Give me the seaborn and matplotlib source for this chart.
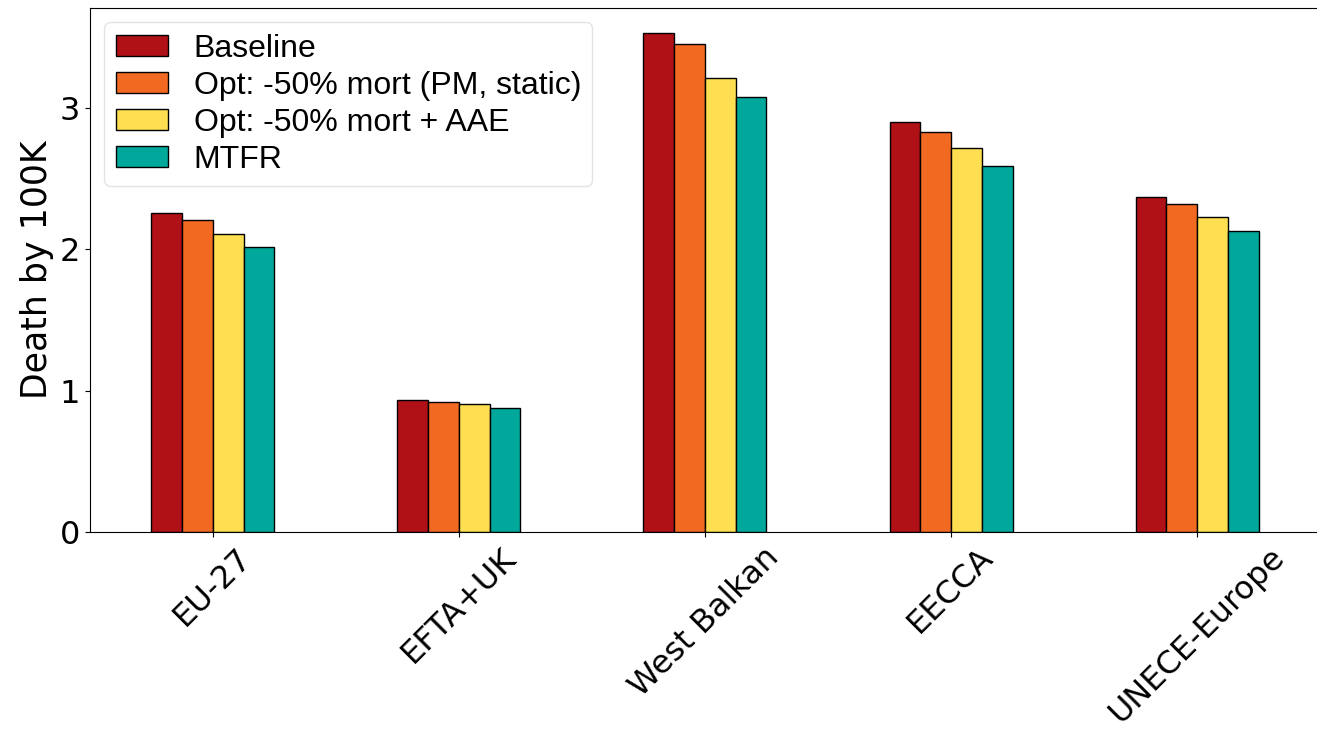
import matplotlib
matplotlib.use("Agg")
import matplotlib.pyplot as plt
import seaborn as sns
import pandas as pd

# ── Data ─────────────────────────────────────────────────────────────────────
REGIONS   = ["EU-27", "EFTA+UK", "West Balkan", "EECCA", "UNECE-Europe"]
SCENARIOS = ["Baseline", "Opt: -50% mort (PM, static)", "Opt: -50% mort + AAE", "MTFR"]

baseline   = [2.26, 0.934, 3.53, 2.90, 2.37]
opt_static = [2.21, 0.922, 3.45, 2.83, 2.32]
opt_aae    = [2.11, 0.906, 3.21, 2.72, 2.23]
mtfr       = [2.02, 0.878, 3.08, 2.59, 2.13]

COLORS = ["#B01116", "#F26A22", "#FEDF52", "#00A89C"]

# long-form table for seaborn
rows = []
for scen, vals in zip(SCENARIOS, [baseline, opt_static, opt_aae, mtfr]):
    for reg, v in zip(REGIONS, vals):
        rows.append({"region": reg, "scenario": scen, "value": v})
df = pd.DataFrame(rows)

# ── Plot ─────────────────────────────────────────────────────────────────────
fig = plt.figure(figsize=(13.17, 7.33), dpi=100)
# right edge sits just past the canvas, so the right spine is cropped as in the original
ax = fig.add_axes([0.0683, 0.274, 0.934, 0.715])

sns.barplot(
    data=df, x="region", y="value", hue="scenario",
    order=REGIONS, hue_order=SCENARIOS, palette=COLORS,
    width=0.5, saturation=1, edgecolor="black", linewidth=1.0,
    errorbar=None, ax=ax,
)

ax.set_xlim(-0.5, 4.5)
ax.set_ylim(0, max(baseline) * 1.05)
ax.set_yticks([0, 1, 2, 3])
ax.set_xlabel("")
ax.set_ylabel("Death by 100K", fontsize=25)
ax.tick_params(axis="y", labelsize=23)
ax.tick_params(axis="x", labelsize=23)
ax.spines["right"].set_visible(False)
for lbl in ax.get_xticklabels():
    lbl.set_rotation(45)
    lbl.set_ha("center")

leg = ax.legend(
    loc="upper left", prop={"family": "Liberation Sans", "size": 23},
    labelspacing=0.22, handlelength=1.65, handleheight=0.6,
    handletextpad=0.8, borderpad=0.35, borderaxespad=0.45,
    frameon=True, fancybox=True,
)
leg.get_frame().set_edgecolor("#dddddd")

fig.savefig("out.png", dpi=100)
plt.close(fig)
